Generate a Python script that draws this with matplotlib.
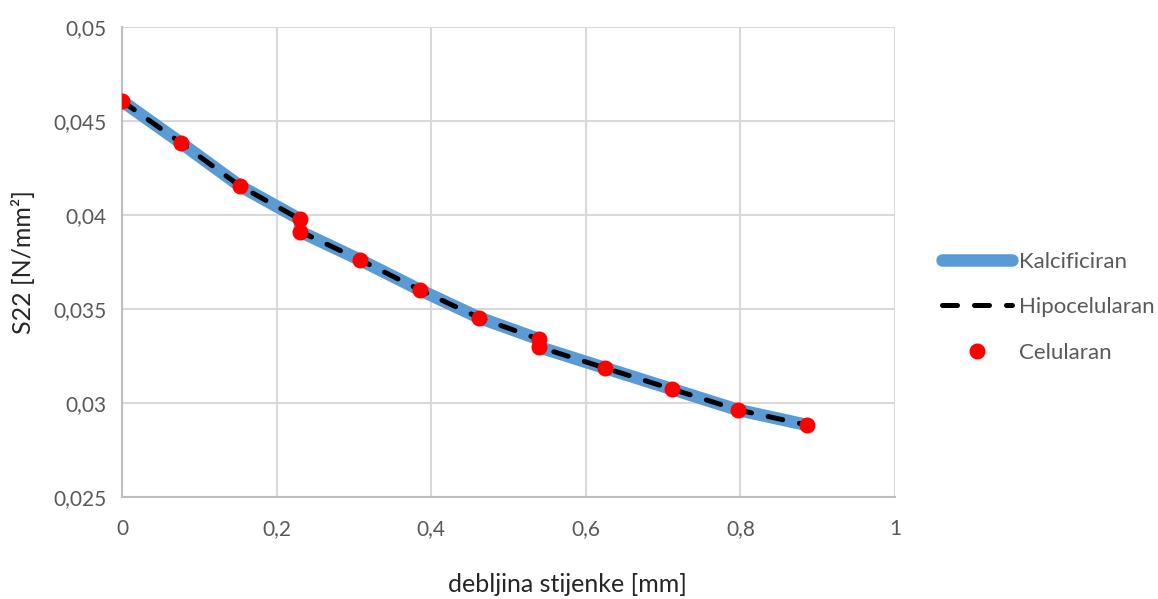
import matplotlib
matplotlib.use("Agg")
import matplotlib.pyplot as plt

# wall thickness [mm] and S22 stress [N/mm^2]
thickness = [0.0, 0.0763, 0.1527, 0.2303, 0.2303, 0.308, 0.3855, 0.4618,
             0.539, 0.539, 0.625, 0.7115, 0.797, 0.886]
s22 = [0.04606, 0.04383, 0.04154, 0.03977, 0.03912, 0.03761, 0.03601,
       0.03454, 0.0334, 0.03298, 0.03186, 0.03074, 0.02963, 0.02883]

series_names = ["Kalcificiran", "Hipocelularan", "Celularan"]
x_ticks = [0, 0.2, 0.4, 0.6, 0.8, 1]
x_tick_labels = ["0", "0,2", "0,4", "0,6", "0,8", "1"]
y_ticks = [0.025, 0.03, 0.035, 0.04, 0.045, 0.05]
y_tick_labels = ["0,025", "0,03", "0,035", "0,04", "0,045", "0,05"]

plt.rcParams["font.family"] = ["Lato", "DejaVu Sans"]
grey_text = "#595959"
grid_col = "#d9d9d9"

fig = plt.figure(figsize=(11.58, 5.99), dpi=100)
ax = fig.add_axes([0.1054, 0.1703, 0.6675, 0.7846])

ax.plot(thickness, s22, color="#5b9bd5", linewidth=9, solid_capstyle="round",
        label=series_names[0], zorder=3)
ax.plot(thickness, s22, color="black", linewidth=3.6, linestyle=(0, (3.0, 3.4)),
        dash_capstyle="round", label=series_names[1], zorder=4)
ax.plot(thickness, s22, linestyle="none", marker="o", markersize=10.5,
        color="#ff0000", label=series_names[2], zorder=5)

ax.set_xlim(0, 1)
ax.set_ylim(0.025, 0.05)
ax.set_xticks(x_ticks)
ax.set_xticklabels(x_tick_labels)
ax.set_yticks(y_ticks)
ax.set_yticklabels(y_tick_labels)
ax.grid(True, color=grid_col, linewidth=1.5)
ax.set_axisbelow(True)
for side in ["top", "right"]:
    ax.spines[side].set_visible(False)
for side in ["left", "bottom"]:
    ax.spines[side].set_color("#bfbfbf")
    ax.spines[side].set_linewidth(1.5)
ax.tick_params(axis="y", length=0, labelsize=15, labelcolor=grey_text, pad=11)
ax.tick_params(axis="x", length=0, labelsize=15, labelcolor=grey_text, pad=16)

# Excel centres the x title on the whole chart, not the plot area
ax.set_xlabel("debljina stijenke [mm]", fontsize=18, color="#262626", va="center")
ax.xaxis.set_label_coords(0.576, -0.187)
ax.set_ylabel("S22 [N/mm²]", fontsize=18, color="#262626", va="center")
ax.yaxis.set_label_coords(-0.128, 0.5)

leg = ax.legend(loc="center left", bbox_to_anchor=(1.035, 0.404), frameon=False,
                fontsize=16, handlelength=3.15, labelspacing=1.15, handletextpad=0.3)
for t in leg.get_texts():
    t.set_color(grey_text)

fig.savefig("out.png", dpi=100)
